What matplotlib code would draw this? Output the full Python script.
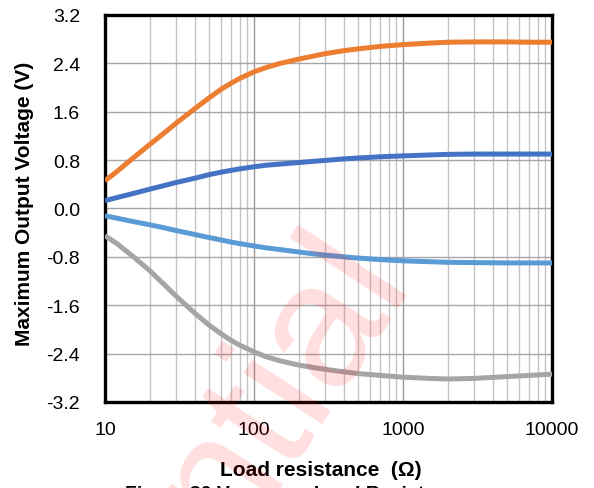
import matplotlib
matplotlib.use("Agg")
import matplotlib.pyplot as plt
from matplotlib.ticker import LogLocator, NullFormatter, FixedLocator

plt.rcParams['font.family'] = ['Liberation Sans', 'DejaVu Sans']

# Load resistance (ohm)
resistance = [10, 12, 15, 20, 25, 30, 40, 50, 60, 70, 80, 100, 120, 150, 200,
              250, 300, 400, 500, 700, 1000, 1500, 2000, 3000, 5000, 7000, 10000]

# Maximum output voltage (V) for each curve
v_orange = [0.46, 0.61, 0.81, 1.06, 1.25, 1.41, 1.65, 1.83, 1.97, 2.07, 2.15,
            2.26, 2.33, 2.40, 2.47, 2.52, 2.56, 2.61, 2.64, 2.68, 2.71, 2.735,
            2.75, 2.755, 2.755, 2.75, 2.75]
v_blue = [0.13, 0.18, 0.24, 0.32, 0.38, 0.43, 0.50, 0.56, 0.60, 0.63, 0.655,
          0.69, 0.715, 0.735, 0.76, 0.78, 0.795, 0.82, 0.835, 0.855, 0.87,
          0.885, 0.895, 0.90, 0.90, 0.90, 0.90]
v_lightblue = [-0.12, -0.16, -0.21, -0.27, -0.32, -0.365, -0.43, -0.48, -0.52,
               -0.555, -0.58, -0.62, -0.65, -0.68, -0.72, -0.75, -0.77, -0.80,
               -0.82, -0.845, -0.865, -0.88, -0.89, -0.895, -0.90, -0.90, -0.90]
v_gray = [-0.45, -0.58, -0.77, -1.03, -1.26, -1.45, -1.73, -1.93, -2.07, -2.18,
          -2.26, -2.37, -2.45, -2.52, -2.59, -2.63, -2.66, -2.70, -2.73, -2.76,
          -2.79, -2.81, -2.82, -2.81, -2.78, -2.76, -2.74]

y_ticks = [-3.2, -2.4, -1.6, -0.8, 0.0, 0.8, 1.6, 2.4, 3.2]
x_ticks = [10, 100, 1000, 10000]

fig = plt.figure(figsize=(5.94, 4.89), dpi=100)
ax = fig.add_axes([0.1768, 0.1759, 0.7525, 0.7914])

for vals, col in [(v_orange, '#ED7D31'), (v_blue, '#4472C4'),
                  (v_lightblue, '#5B9BD5'), (v_gray, '#A5A5A5')]:
    ax.plot(resistance, vals, color=col, lw=3.6, solid_capstyle='butt',
            solid_joinstyle='round', zorder=3)

ax.set_xscale('log')
ax.set_xlim(10, 10000)
ax.set_ylim(-3.2, 3.2)
ax.xaxis.set_major_locator(FixedLocator(x_ticks))
ax.set_xticklabels([str(t) for t in x_ticks])
ax.xaxis.set_minor_locator(LogLocator(base=10, subs=range(2, 10)))
ax.xaxis.set_minor_formatter(NullFormatter())
ax.set_yticks(y_ticks)
ax.set_yticklabels([f"{t:.1f}" for t in y_ticks])

ax.grid(True, which='major', axis='x', color='#999999', lw=1.0)
ax.grid(True, which='minor', axis='x', color='#C4C4C4', lw=1.0)
ax.grid(True, which='major', axis='y', color='#A6A6A6', lw=1.0)
ax.set_axisbelow(True)

ax.tick_params(which='both', length=0)
ax.tick_params(axis='y', labelsize=14, pad=18)
ax.tick_params(axis='x', labelsize=14, pad=13.5)
for s in ax.spines.values():
    s.set_linewidth(2.4)
    s.set_color('black')

ax.set_ylabel('Maximum Output Voltage (V)', fontsize=15, fontweight='bold')
ax.yaxis.label.set_va('center')
ax.yaxis.set_label_coords(-0.181, 0.514)
ax.set_xlabel('Load resistance  (\u03a9)', fontsize=15, fontweight='bold')
ax.xaxis.label.set_va('center')
ax.xaxis.set_label_coords(0.483, -0.175)

# caption, cut off by the bottom edge
fig.text(125 / 594, 1 - 486 / 489, 'Figure 30 Vo versus Load Resistance',
         fontsize=14, fontweight='bold', ha='left', va='top')

# watermark
fig.text(408 / 594, 1 - 274 / 489, 'ntial', fontsize=128, color='red', alpha=0.13,
         rotation=57, rotation_mode='anchor', ha='right', va='baseline', zorder=10)

fig.savefig('out.png', dpi=100)
